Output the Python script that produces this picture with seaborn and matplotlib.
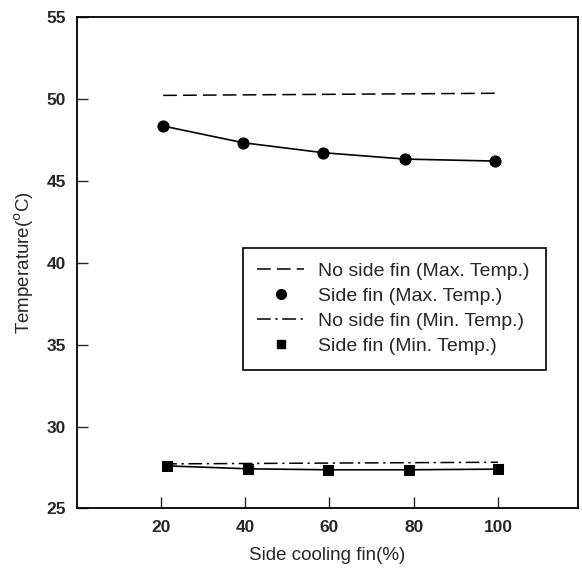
import pandas as pd
import matplotlib.pyplot as plt
import seaborn as sns
from matplotlib.lines import Line2D

# side cooling fin (%) as drawn
fin_max_x = [20.5, 39.5, 58.5, 78.0, 99.3]
fin_max_t = [48.35, 47.33, 46.72, 46.33, 46.21]

fin_min_x = [21.4, 40.6, 59.6, 78.9, 100.0]
fin_min_t = [27.60, 27.42, 27.36, 27.36, 27.40]

nofin_x = [20.5, 100.0]
nofin_max_t = [50.22, 50.35]
nofin_min_t = [27.72, 27.82]

labels = ["No side fin (Max. Temp.)", "Side fin (Max. Temp.)",
          "No side fin (Min. Temp.)", "Side fin (Min. Temp.)"]

sns.set_style("ticks")
plt.rcParams["font.family"] = ["Liberation Sans", "DejaVu Sans"]

df_max = pd.DataFrame({"x": fin_max_x, "t": fin_max_t})
df_min = pd.DataFrame({"x": fin_min_x, "t": fin_min_t})
df_nofin = pd.DataFrame({"x": nofin_x, "tmax": nofin_max_t, "tmin": nofin_min_t})

fig = plt.figure(figsize=(5.82, 5.70), dpi=100)
ax = fig.add_axes([0.132, 0.108, 0.861, 0.862])

sns.lineplot(data=df_nofin, x="x", y="tmax", ax=ax, color="black", lw=1.1,
             linestyle=(0, (9, 4)))
sns.lineplot(data=df_nofin, x="x", y="tmin", ax=ax, color="black", lw=1.1,
             linestyle=(0, (9, 3, 1.5, 3)))
sns.lineplot(data=df_max, x="x", y="t", ax=ax, color="black", lw=1.2,
             marker="o", markersize=8, markeredgecolor="black")
sns.lineplot(data=df_min, x="x", y="t", ax=ax, color="black", lw=1.2,
             marker="s", markersize=7, markeredgecolor="black")

ax.set_xlim(0, 119)
ax.set_ylim(25, 55)
ax.set_xticks([20, 40, 60, 80, 100])
ax.set_yticks([25, 30, 35, 40, 45, 50, 55])
ax.tick_params(direction="in", length=8, width=1, labelsize=12.5, pad=8)
for lab in ax.get_xticklabels() + ax.get_yticklabels():
    lab.set_fontweight("bold")
for sp in ax.spines.values():
    sp.set_linewidth(1.3)
    sp.set_color("black")

ax.set_xlabel("Side cooling fin(%)", fontsize=13.5, labelpad=9)
ax.set_ylabel("Temperature($^{\\mathrm{o}}$C)", fontsize=13.5, labelpad=7)

handles = [
    Line2D([], [], color="black", lw=1.1, linestyle=(0, (9, 4))),
    Line2D([], [], color="black", lw=0, marker="o", markersize=7),
    Line2D([], [], color="black", lw=1.1, linestyle=(0, (9, 3, 1.5, 3))),
    Line2D([], [], color="black", lw=0, marker="s", markersize=6),
]
leg = ax.legend(handles, labels, loc="upper left",
                bbox_to_anchor=(0.331, 0.288, 0.605, 0.242), mode="expand",
                borderaxespad=0, fancybox=False, framealpha=1, fontsize=14,
                handlelength=2.4, handletextpad=0.7, labelspacing=0.38,
                borderpad=0.75)
leg.get_frame().set_edgecolor("black")
leg.get_frame().set_linewidth(1.2)

plt.savefig("out.png", dpi=100)
